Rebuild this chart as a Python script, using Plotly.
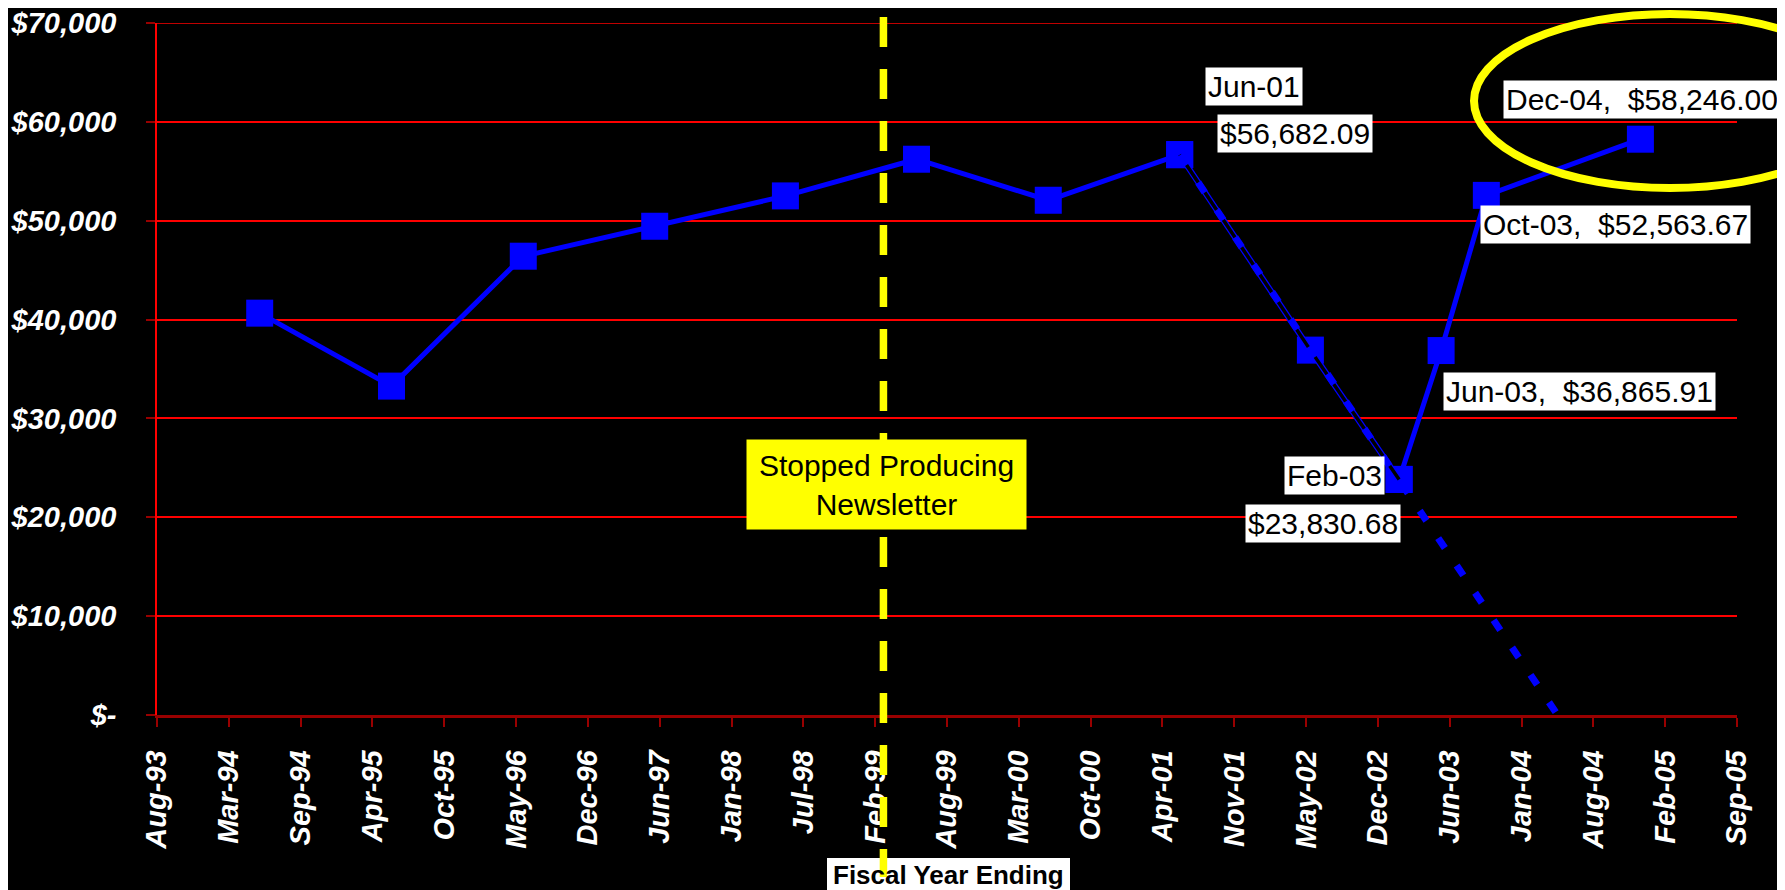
import numpy as np
import pandas as pd
import plotly.graph_objects as go

# ---------------- data ----------------
dates = ["1994-06-01", "1995-06-03", "1996-06-04", "1997-06-05", "1998-06-04",
         "1999-06-04", "2000-06-05", "2001-06-06", "2002-06-05", "2003-02-07",
         "2003-06-04", "2003-10-08", "2004-12-10"]
values = [40650, 33270, 46410, 49440, 52510,
          56220, 52070, 56682.09, 36910, 23830.68,
          36865.91, 52563.67, 58246.00]

x_tick_labels = ["Aug-93", "Mar-94", "Sep-94", "Apr-95", "Oct-95", "May-96", "Dec-96",
                 "Jun-97", "Jan-98", "Jul-98", "Feb-99", "Aug-99", "Mar-00", "Oct-00",
                 "Apr-01", "Nov-01", "May-02", "Dec-02", "Jun-03", "Jan-04", "Aug-04",
                 "Feb-05", "Sep-05"]
y_tick_values = [0, 10000, 20000, 30000, 40000, 50000, 60000, 70000]
y_tick_labels = ["$-", "$10,000", "$20,000", "$30,000", "$40,000", "$50,000",
                 "$60,000", "$70,000"]

event_date = "1999-03-04"
event_text = "Stopped Producing<br>Newsletter"
x_title = "Fiscal Year Ending"

# ---------------- axis (Excel-style date axis: min 34200, unit 200 days) ----------------
excel_epoch = pd.Timestamp("1899-12-30")
axis_min = excel_epoch + pd.Timedelta(days=34200)
axis_step = 200
axis_max = axis_min + pd.Timedelta(days=axis_step * (len(x_tick_labels) - 1))
tick_vals = [axis_min + pd.Timedelta(days=axis_step * i) for i in range(len(x_tick_labels))]

dts = pd.to_datetime(dates)

# ---------------- layout geometry ----------------
# page body has an 8px margin; figure is sized so it ends at the window edge
PAGE_OFF = 8
WIN_W, WIN_H = 1785, 890
W, H = WIN_W - PAGE_OFF, WIN_H - PAGE_OFF
# plot area in window pixels
PL, PR, PT, PB = 157, 1737, 23, 715
ML = PL - PAGE_OFF
MR = W - (PR - PAGE_OFF)
MT = PT - PAGE_OFF
MB = H - (PB - PAGE_OFF)


def px_x(px):
    return (px - PL) / (PR - PL)


def px_y(py):
    return (PB - py) / (PB - PT)


BLUE = "#0000FF"
FONT = "Liberation Sans, Arial, sans-serif"

fig = go.Figure()

seg_a = list(range(0, 8))
seg_b = list(range(7, 10))
seg_c = list(range(9, 13))

marker_style = dict(symbol="square", size=27, color=BLUE, line=dict(width=0))

fig.add_trace(go.Scatter(
    x=[dts[i] for i in seg_a], y=[values[i] for i in seg_a], mode="lines+markers",
    line=dict(color=BLUE, width=5), marker=marker_style,
    hoverinfo="skip", showlegend=False))
fig.add_trace(go.Scatter(
    x=[dts[i] for i in seg_c], y=[values[i] for i in seg_c], mode="lines+markers",
    line=dict(color=BLUE, width=5), marker=marker_style,
    hoverinfo="skip", showlegend=False))
fig.add_trace(go.Scatter(
    x=[dts[i] for i in seg_b], y=[values[i] for i in seg_b], mode="markers",
    marker=marker_style, hoverinfo="skip", showlegend=False))
# declining segment: black line with thin blue edges
fig.add_trace(go.Scatter(
    x=[dts[i] for i in seg_b], y=[values[i] for i in seg_b], mode="lines",
    line=dict(color=BLUE, width=6), hoverinfo="skip", showlegend=False))
fig.add_trace(go.Scatter(
    x=[dts[i] for i in seg_b], y=[values[i] for i in seg_b], mode="lines",
    line=dict(color="#000000", width=3.5), hoverinfo="skip", showlegend=False))

# linear trend through the declining segment, extended down to zero
days = np.array([(dts[i] - excel_epoch).days for i in seg_b], dtype=float)
vals = np.array([values[i] for i in seg_b], dtype=float)
slope, intercept = np.polyfit(days, vals, 1)
d_start = days[0]
d_zero = -intercept / slope
trend_x = [excel_epoch + pd.Timedelta(days=float(d)) for d in (d_start, d_zero)]
trend_y = [slope * d_start + intercept, 0.0]
fig.add_trace(go.Scatter(
    x=trend_x, y=trend_y, mode="lines",
    line=dict(color=BLUE, width=7, dash="12px,21px"),
    hoverinfo="skip", showlegend=False))

# ---------------- data labels ----------------
label_font = dict(family=FONT, size=30, color="black")
annotations = []


def add_label(i, text, xs, ys):
    annotations.append(dict(
        x=dts[i], y=values[i], xref="x", yref="y", text=text, showarrow=False,
        xshift=xs, yshift=ys, font=label_font, bgcolor="white", borderpad=2,
        xanchor="center", yanchor="middle"))


def fmt_month(i):
    return dts[i].strftime("%b-%y")


def fmt_val(i):
    return "${:,.2f}".format(values[i])


add_label(7, fmt_month(7), 74, 68)
add_label(7, fmt_val(7), 115, 21)
add_label(9, fmt_month(9), -65, 4)
add_label(9, fmt_val(9), -76, -44)
add_label(10, fmt_month(10) + ",  " + fmt_val(10), 138, -41)
add_label(11, fmt_month(11) + ",  " + fmt_val(11), 129, -29)
add_label(12, fmt_month(12) + ",  " + fmt_val(12), 2, 40)

# event box
annotations.append(dict(
    x=px_x(886.5), y=px_y(484.5), xref="paper", yref="paper", text=event_text,
    showarrow=False, font=dict(family=FONT, size=30, color="black"),
    bgcolor="#FFFF00", borderpad=1, width=277, height=87,
    xanchor="center", yanchor="middle"))

# axis title text
annotations.append(dict(
    x=px_x(948.5), y=px_y(875), xref="paper", yref="paper",
    text="<b>" + x_title + "</b>", showarrow=False,
    font=dict(family=FONT, size=26, color="black"),
    xanchor="center", yanchor="middle"))

shapes = [
    # top gridline at the range end
    dict(type="line", xref="paper", yref="y", x0=0, x1=1,
         y0=y_tick_values[-1], y1=y_tick_values[-1],
         line=dict(color="#FF0000", width=1.5), layer="below"),
    # white box behind the axis title
    dict(type="rect", xref="paper", yref="paper",
         x0=px_x(827), x1=px_x(1070), y0=px_y(892), y1=px_y(858),
         fillcolor="white", line=dict(width=0), layer="above"),
    # yellow dashed event line
    dict(type="line", xref="x", yref="paper", x0=event_date, x1=event_date,
         y0=px_y(17), y1=px_y(877),
         line=dict(color="#FFFF00", width=7.5, dash="30px,22px"), layer="above"),
    # yellow highlight ellipse
    dict(type="circle", xref="paper", yref="paper",
         x0=px_x(1474), x1=px_x(1866), y0=px_y(188), y1=px_y(14),
         line=dict(color="#FFFF00", width=8), layer="above"),
    # teal slide edge
    dict(type="line", xref="paper", yref="paper",
         x0=px_x(1784), x1=px_x(1784), y0=px_y(892), y1=px_y(0),
         line=dict(color="#1A9A9A", width=2), layer="above"),
]

tick_font = dict(family=FONT, size=29, color="white", weight="bold", style="italic")

fig.update_layout(
    width=W, height=H,
    margin=dict(l=ML, r=MR, t=MT, b=MB, autoexpand=False),
    paper_bgcolor="black", plot_bgcolor="black",
    showlegend=False,
    annotations=annotations,
    shapes=shapes,
    xaxis=dict(
        type="date", range=[axis_min, axis_max],
        tickmode="array", tickvals=tick_vals, ticktext=x_tick_labels,
        tickangle=-90, tickfont=tick_font,
        showgrid=False, zeroline=False,
        showline=True, linecolor="#990000", linewidth=2.5,
        ticks="outside", ticklen=9, tickwidth=2, tickcolor="#990000",
        ticklabelstandoff=12, automargin=False, ticklabeloverflow="allow",
    ),
    yaxis=dict(
        range=[0, 70000],
        tickmode="array", tickvals=y_tick_values, ticktext=y_tick_labels,
        tickfont=tick_font,
        showgrid=True, gridcolor="#FF0000", gridwidth=1.5, zeroline=False,
        showline=True, linecolor="#FF0000", linewidth=1.5,
        ticks="outside", ticklen=9, tickwidth=2, tickcolor="#990000",
        ticklabelstandoff=24, automargin=False, ticklabeloverflow="allow",
    ),
)

fig.write_html("out.html")
